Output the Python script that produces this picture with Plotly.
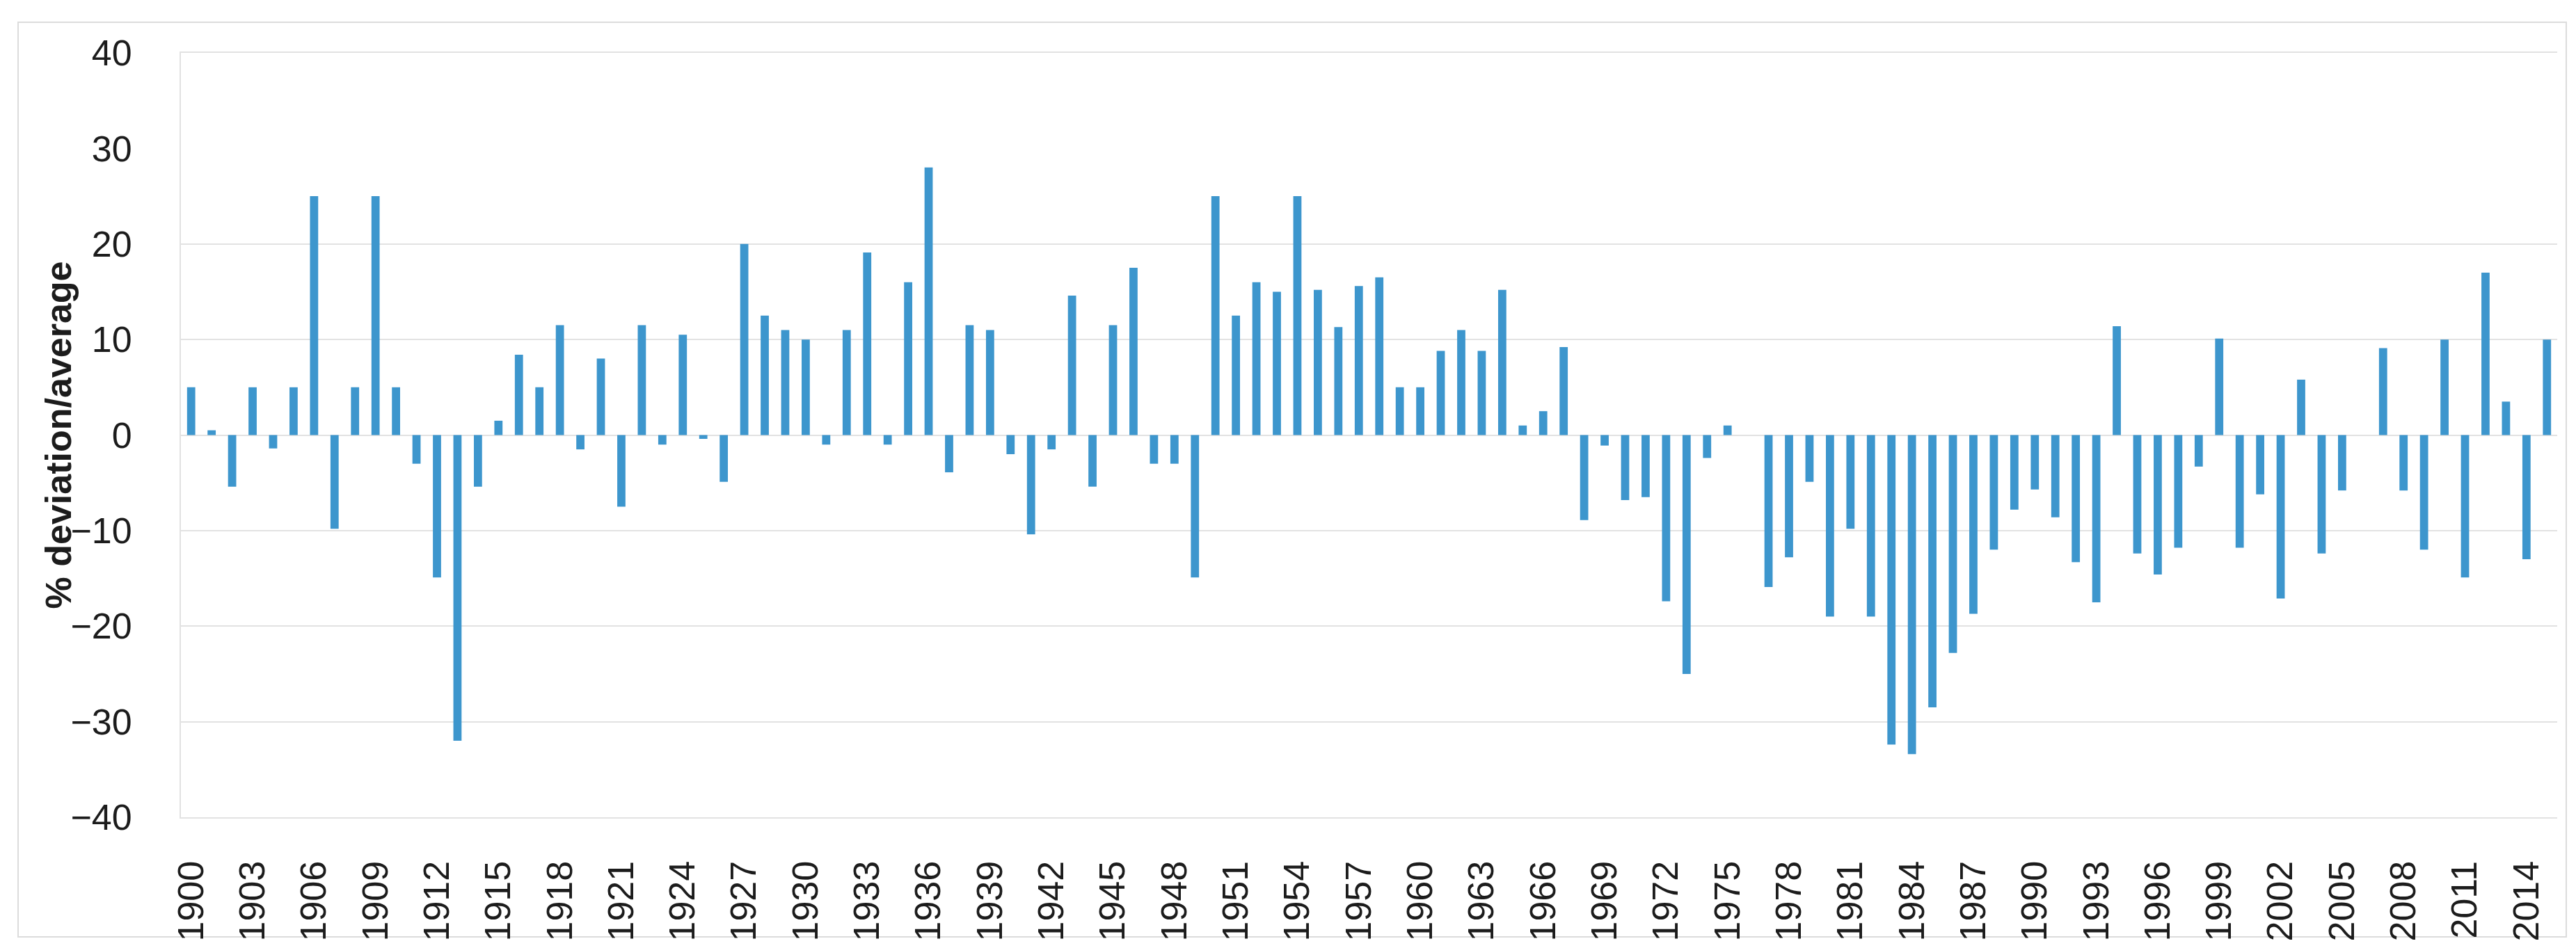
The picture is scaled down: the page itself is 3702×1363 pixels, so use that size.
import plotly.graph_objects as go

# ---- data -------------------------------------------------------------
years = list(range(1900, 2016))

deviation = [
    5, 0.5, -5.4, 5, -1.4, 5, 25, -9.8, 5, 25,            # 1900-1909
    5, -3, -14.9, -32, -5.4, 1.5, 8.4, 5, 11.5, -1.5,     # 1910-1919
    8, -7.5, 11.5, -1, 10.5, -0.4, -4.9, 20, 12.5, 11,    # 1920-1929
    10, -1, 11, 19.1, -1, 16, 28, -3.9, 11.5, 11,         # 1930-1939
    -2, -10.4, -1.5, 14.6, -5.4, 11.5, 17.5, -3, -3, -14.9,  # 1940-1949
    25, 12.5, 16, 15, 25, 15.2, 11.3, 15.6, 16.5, 5,      # 1950-1959
    5, 8.8, 11, 8.8, 15.2, 1, 2.5, 9.2, -8.9, -1.1,       # 1960-1969
    -6.8, -6.5, -17.4, -25, -2.4, 1, 0, -15.9, -12.8, -4.9,  # 1970-1979
    -19, -9.8, -19, -32.4, -33.4, -28.5, -22.8, -18.7, -12, -7.8,  # 1980-1989
    -5.7, -8.6, -13.3, -17.5, 11.4, -12.4, -14.6, -11.8, -3.3, 10.1,  # 1990-1999
    -11.8, -6.2, -17.1, 5.8, -12.4, -5.8, 0, 9.1, -5.8, -12,  # 2000-2009
    10, -14.9, 17, 3.5, -13, 10,                          # 2010-2015
]

x_tick_years = [1900, 1903, 1906, 1909, 1912, 1915, 1918, 1921, 1924, 1927,
                1930, 1933, 1936, 1939, 1942, 1945, 1948, 1951, 1954, 1957,
                1960, 1963, 1966, 1969, 1972, 1975, 1978, 1981, 1984, 1987,
                1990, 1993, 1996, 1999, 2002, 2005, 2008, 2011, 2014]
x_tick_labels = [str(y) for y in x_tick_years]

y_tick_vals = [-40, -30, -20, -10, 0, 10, 20, 30, 40]
grid_vals = [-30, -20, -10, 0, 10, 20]   # the original shows no gridline at 30

y_title = "% deviation/average"

# ---- style ------------------------------------------------------------
W, H = 3702, 1363
L, R, T, B = 252, 35, 68, 196
BAR_COLOR = "#3D96CD"
GRID_COLOR = "#E2E2E2"
TEXT_COLOR = "#1c1c1c"
FONT = "Liberation Sans"

fig = go.Figure()
fig.add_trace(go.Bar(
    x=years, y=deviation, width=0.4,
    marker=dict(color=BAR_COLOR, line=dict(width=0)),
    showlegend=False, hoverinfo="x+y",
))
# invisible helper trace so the gridline axis (y2) is drawn
fig.add_trace(go.Scatter(
    x=[years[0]], y=[0], yaxis="y2", mode="markers",
    marker=dict(opacity=0), showlegend=False, hoverinfo="skip",
))

plot_w = W - L - R
plot_h = H - T - B

fig.update_layout(
    width=W, height=H,
    margin=dict(l=L, r=R, t=T, b=B, pad=0),
    paper_bgcolor="white", plot_bgcolor="white",
    font=dict(family=FONT, color=TEXT_COLOR, size=52),
    bargap=0.6,
    xaxis=dict(
        range=[1899.5, 2015.5],
        tickmode="array", tickvals=x_tick_years, ticktext=x_tick_labels,
        tickangle=-90, ticks="", showgrid=False, zeroline=False,
        showline=True, mirror=True, linecolor=GRID_COLOR, linewidth=2,
        tickfont=dict(family=FONT, size=52, color=TEXT_COLOR),
        ticklabelstandoff=40,
    ),
    yaxis=dict(
        range=[-40, 40],
        tickmode="array", tickvals=y_tick_vals,
        ticks="", showgrid=False, zeroline=False,
        showline=True, linecolor=GRID_COLOR, linewidth=2,
        tickfont=dict(family=FONT, size=52, color=TEXT_COLOR),
        ticklabelstandoff=58,
    ),
    yaxis2=dict(
        range=[-40, 40], overlaying="y", side="left",
        tickmode="array", tickvals=grid_vals,
        showticklabels=False, ticks="", zeroline=False, showline=False,
        showgrid=True, gridcolor=GRID_COLOR, gridwidth=2,
    ),
    annotations=[dict(
        text=y_title, textangle=-90, showarrow=False,
        xref="paper", yref="paper", x=(75 - L) / plot_w, y=0.5,
        xanchor="center", yanchor="middle",
        font=dict(family=FONT, size=52, color=TEXT_COLOR, weight="bold"),
    )],
    shapes=[dict(
        type="rect", xref="paper", yref="paper",
        x0=(18 - L) / plot_w, x1=(3680 - L) / plot_w,
        y0=(H - B - 1339) / plot_h, y1=(H - B - 24) / plot_h,
        line=dict(color="#DCDCDC", width=2), fillcolor="rgba(0,0,0,0)",
        layer="below",
    )],
)

fig.write_html("out.html")
